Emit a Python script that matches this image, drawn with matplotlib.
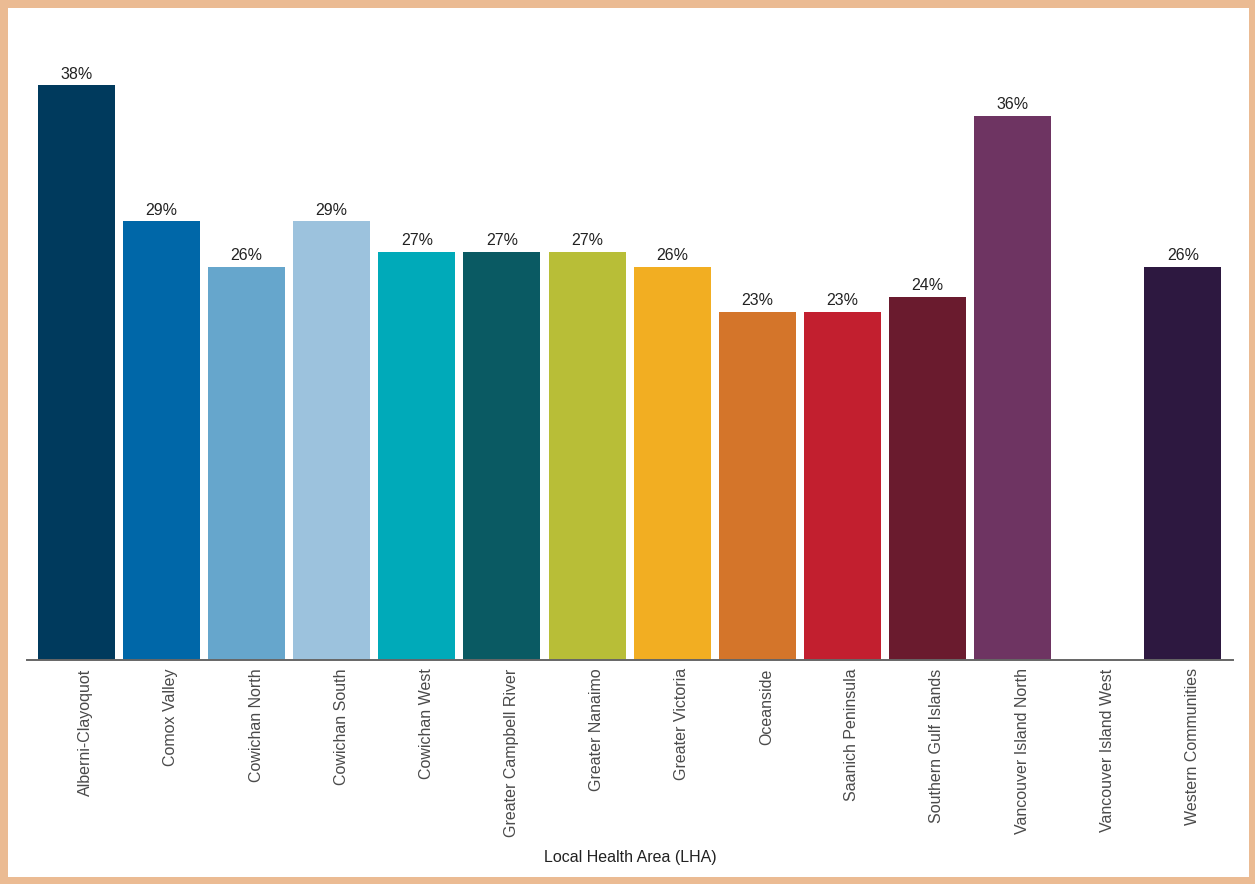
import numpy as np
import matplotlib
matplotlib.use("Agg")
import matplotlib.pyplot as plt
from matplotlib.patches import Rectangle
import matplotlib.transforms as mtransforms

categories = ["Alberni-Clayoquot", "Comox Valley", "Cowichan North", "Cowichan South",
              "Cowichan West", "Greater Campbell River", "Greater Nanaimo", "Greater Victoria",
              "Oceanside", "Saanich Peninsula", "Southern Gulf Islands", "Vancouver Island North",
              "Vancouver Island West", "Western Communities"]
values = [38, 29, 26, 29, 27, 27, 27, 26, 23, 23, 24, 36, np.nan, 26]
colors = ["#003A5D", "#0067A8", "#66A6CC", "#9CC2DD", "#00AAB9", "#0A5A63", "#B8BE37",
          "#F2AE22", "#D4752A", "#C21F2F", "#6A1B2E", "#6E3462", "#FFFFFF", "#2D1840"]

plt.rcParams['font.family'] = ['Liberation Sans', 'DejaVu Sans']

fig = plt.figure(figsize=(12.55, 8.84), dpi=100)
fig.patch.set_facecolor("#EBBB93")
fig.patches.append(Rectangle((8/1255, 1-877/884), (1249-8)/1255, 869/884,
                             transform=fig.transFigure, facecolor="white",
                             edgecolor="none", zorder=-10))

ax = fig.add_axes([27/1255, 1-660/884, (1233-27)/1255, 620/884])
ax.set_zorder(5)
ax.set_facecolor("none")
x = np.arange(len(categories))
bars = ax.bar(x, values, width=0.905, color=colors, zorder=2)
for xi, v in zip(x, values):
    if not np.isnan(v):
        ax.text(xi, v + 0.25, f"{v:.0f}%", ha="center", va="bottom",
                fontsize=11.5, color="#222222")

ax.set_xlim(-0.58, 13.59)
ax.set_ylim(0, 41.0)
ax.set_xticks(x)
ax.set_xticklabels(categories, rotation=90, fontsize=11.5, color="#4a4a4a")
ax.tick_params(axis="x", length=0, pad=6)
offset = mtransforms.ScaledTranslation(9.5/100, 0, fig.dpi_scale_trans)
for lbl in ax.get_xticklabels():
    lbl.set_transform(lbl.get_transform() + offset)
ax.set_yticks([])
for s in ["top", "right", "left"]:
    ax.spines[s].set_visible(False)
ax.spines["bottom"].set_color("#666666")
ax.spines["bottom"].set_linewidth(1.4)
ax.set_xlabel("Local Health Area (LHA)", fontsize=11.5, color="#222222")
ax.xaxis.set_label_coords((630-27)/(1233-27), -(850-660)/620)

fig.savefig("out.png", dpi=100, facecolor=fig.get_facecolor())
